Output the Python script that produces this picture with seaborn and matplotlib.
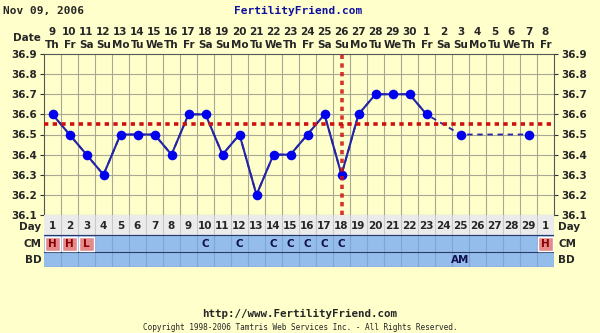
import matplotlib
matplotlib.use("Agg")
import matplotlib.pyplot as plt
import seaborn as sns
import numpy as np
import pandas as pd

# ---------------- data ----------------
dates = ["9", "10", "11", "12", "13", "14", "15", "16", "17", "18", "19", "20", "21", "22",
         "23", "24", "25", "26", "27", "28", "29", "30", "1", "2", "3", "4", "5", "6", "7", "8"]
weekdays = ["Th", "Fr", "Sa", "Su", "Mo", "Tu", "We", "Th", "Fr", "Sa", "Su", "Mo", "Tu", "We",
            "Th", "Fr", "Sa", "Su", "Mo", "Tu", "We", "Th", "Fr", "Sa", "Su", "Mo", "Tu", "We",
            "Th", "Fr"]
cycle_days = [str(d) for d in range(1, 30)] + ["1"]
temps = [36.6, 36.5, 36.4, 36.3, 36.5, 36.5, 36.5, 36.4, 36.6, 36.6,
         36.4, 36.5, 36.2, 36.4, 36.4, 36.5, 36.6, 36.3, 36.6, 36.7,
         36.7, 36.7, 36.6, np.nan, 36.5, np.nan, np.nan, np.nan, 36.5, np.nan]
cm = ["H", "H", "L", "", "", "", "", "", "", "C", "", "C", "", "C", "C",
      "C", "C", "C", "", "", "", "", "", "", "", "", "", "", "", "H"]
bd = ["", "", "", "", "", "", "", "", "", "", "", "", "", "", "",
      "", "", "", "", "", "", "", "", "", "AM", "", "", "", "", ""]
y_ticks = [36.1, 36.2, 36.3, 36.4, 36.5, 36.6, 36.7, 36.8, 36.9]
coverline = 36.55
ovulation_day = 18
chart_date = "Nov 09, 2006"
site = "FertilityFriend.com"
url = "http://www.FertilityFriend.com"
copyright_txt = "Copyright 1998-2006 Tamtris Web Services Inc. - All Rights Reserved."

# ---------------- style ----------------
sns.set_style("white")
plt.rcParams["font.family"] = ["DejaVu Sans"]
BG = "#FFFFCC"
GRID = "#A8A894"
BLUE = "#0000EE"
LINE = "#2424A8"
RED = "#D01010"
FS = 7.5

W, H = 600, 333
fig = plt.figure(figsize=(6, 3.33), dpi=100, facecolor=BG)

def fx(px):
    return px / W

def fy(py):
    return 1 - py / H

L, R = 44, 554
T, B = 54, 215
ax = fig.add_axes([fx(L), fy(B), (R - L) / W, (B - T) / H])
ax.set_facecolor(BG)

n = len(temps)
days = np.arange(1, n + 1)
df = pd.DataFrame({"day": days, "temp": temps})
obs = df.dropna().copy()
obs["run"] = (obs["day"].diff() != 1).cumsum()

# dashed line through all observed points (visible across gaps)
sns.lineplot(data=obs, x="day", y="temp", ax=ax, color=LINE, lw=1.3,
             linestyle=(0, (3, 2.6)), estimator=None, sort=True, zorder=3)
# solid line over consecutive runs
sns.lineplot(data=obs, x="day", y="temp", units="run", estimator=None, ax=ax,
             color=LINE, lw=1.5, zorder=4)
sns.scatterplot(data=obs, x="day", y="temp", ax=ax, color=BLUE, s=48,
                edgecolor=BLUE, linewidth=0, zorder=5)

ax.axhline(coverline, color=RED, lw=2.6, linestyle=(0, (1.2, 1.2)), zorder=6)
ax.axvline(ovulation_day, color=RED, lw=2.6, linestyle=(0, (1.2, 1.2)), zorder=6, alpha=0.85)

ax.set_xlim(0.5, n + 0.5)
ax.set_ylim(y_ticks[0], y_ticks[-1])
for xb in np.arange(1.5, n, 1):
    ax.axvline(xb, color=GRID, lw=0.8, zorder=1)
for yv in y_ticks[1:-1]:
    ax.axhline(yv, color=GRID, lw=0.8, zorder=1)
ax.set_xticks([])
ax.set_yticks(y_ticks)
ax.set_yticklabels([f"{v:.1f}" for v in y_ticks], fontsize=FS, fontweight="bold")
ax.tick_params(axis="y", length=3, width=0.8, color="#333333", pad=2,
               labelleft=True, labelright=True, left=True, right=True)
ax.set_xlabel("")
ax.set_ylabel("")
if ax.get_legend():
    ax.get_legend().remove()
for s in ax.spines.values():
    s.set_color("#555555")
    s.set_linewidth(0.8)

# header dates
hdr = fig.add_axes([fx(L), fy(52), (R - L) / W, 28 / H])
hdr.set_xlim(0.5, n + 0.5)
hdr.set_ylim(52, 24)
hdr.axis("off")
for i in range(n):
    hdr.text(i + 1, 32, dates[i], ha="center", va="center", fontsize=FS, fontweight="bold")
    hdr.text(i + 1, 45, weekdays[i], ha="center", va="center", fontsize=FS, fontweight="bold")
fig.text(fx(41), fy(38), "Date", ha="right", va="center", fontsize=FS, fontweight="bold")

# table rows (y in pixel units)
TB = 267
tb = fig.add_axes([fx(L), fy(TB), (R - L) / W, (TB - B) / H])
tb.set_xlim(0.5, n + 0.5)
tb.set_ylim(TB, B)
tb.axis("off")
tb.axhspan(B, 235, color="#EBEBEB", zorder=0)
tb.axhspan(235, TB, color="#94BDEB", zorder=0)
for xb in np.arange(1.5, n, 1):
    tb.plot([xb, xb], [B, 235], color="#C8C8C8", lw=0.8, zorder=1)
    tb.plot([xb, xb], [235, TB], color="#7FA6D6", lw=0.8, zorder=1)
for yb in [235, 252, TB]:
    tb.axhline(yb, color="#2A3A66", lw=0.8, zorder=2)
for i in range(n):
    tb.text(i + 1, 226, cycle_days[i], ha="center", va="center", fontsize=FS, fontweight="bold")
    if cm[i]:
        if cm[i] in ("H", "L"):
            tb.bar(i + 1, 14, bottom=237, width=0.84, color="#E58A8A", zorder=2)
            tb.text(i + 1, 244, cm[i], ha="center", va="center", fontsize=FS,
                    fontweight="bold", color="#8B0000", zorder=3)
        else:
            tb.text(i + 1, 244, cm[i], ha="center", va="center", fontsize=FS,
                    fontweight="bold", color="#101050", zorder=3)
    if bd[i]:
        tb.text(i + 1, 260, bd[i], ha="center", va="center", fontsize=FS,
                fontweight="bold", color="#101050", zorder=3)
for lab, yy in [("Day", 227), ("CM", 244), ("BD", 260)]:
    tb.text(0.35, yy, lab, ha="right", va="center", fontsize=FS, fontweight="bold")
    tb.text(n + 0.75, yy, lab, ha="left", va="center", fontsize=FS, fontweight="bold")

# titles
fig.text(fx(3), fy(11), chart_date, ha="left", va="center", fontsize=8,
         fontweight="bold", family="DejaVu Sans Mono")
fig.text(fx(298), fy(11), site, ha="center", va="center", fontsize=8,
         fontweight="bold", family="DejaVu Sans Mono", color="#1010A0")
fig.text(fx(300), fy(314), url, ha="center", va="center", fontsize=7.8,
         fontweight="bold", family="DejaVu Sans Mono")
fig.text(fx(300), fy(327), copyright_txt, ha="center", va="center", fontsize=5.6,
         family="DejaVu Sans Mono")

fig.savefig("out.png", dpi=100, facecolor=BG)
